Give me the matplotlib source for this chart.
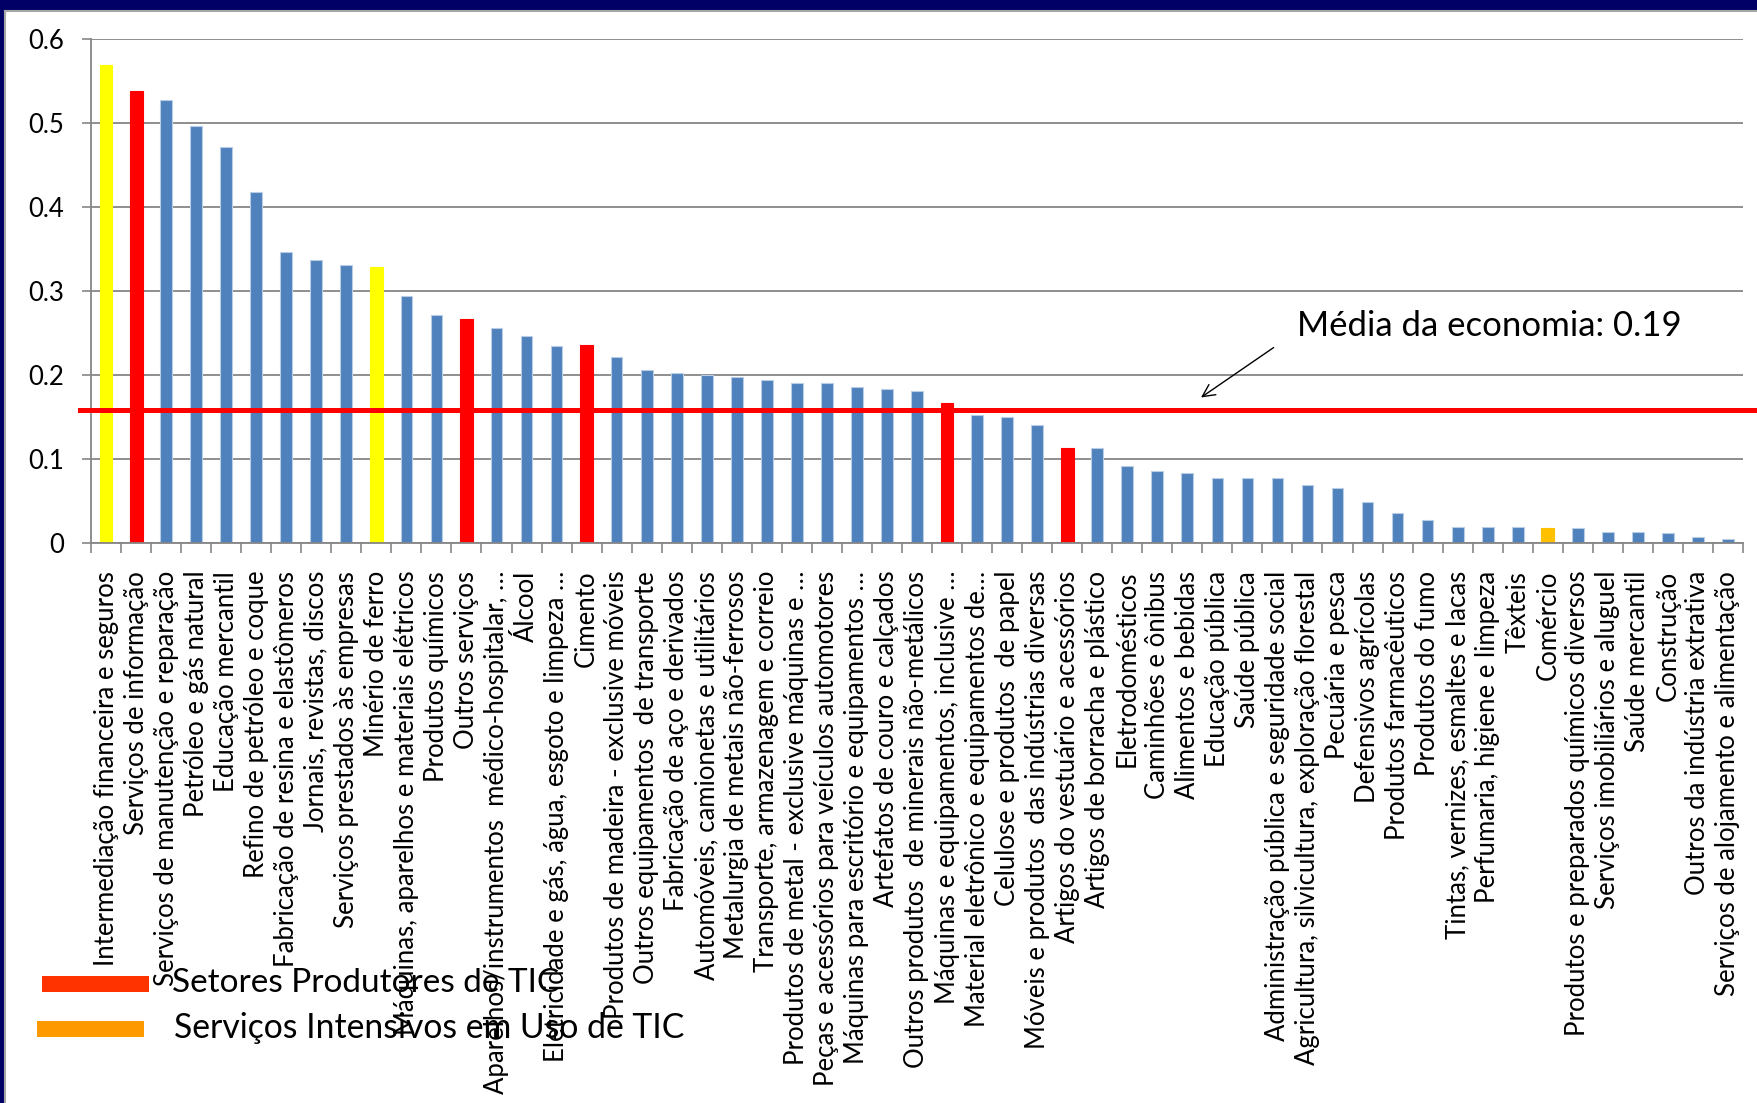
import numpy as np
import matplotlib
matplotlib.use("Agg")
import matplotlib.pyplot as plt
from matplotlib.patches import Rectangle
from matplotlib.lines import Line2D

plt.rcParams['font.family'] = ['Lato', 'DejaVu Sans']

# %% data
setores = [
    "Intermediação financeira e seguros",
    "Serviços de informação",
    "Serviços de manutenção e reparação",
    "Petróleo e gás natural",
    "Educação mercantil",
    "Refino de petróleo e coque",
    "Fabricação de resina e elastômeros",
    "Jornais, revistas, discos",
    "Serviços prestados às empresas",
    "Minério de ferro",
    "Máquinas, aparelhos e materiais elétricos",
    "Produtos químicos",
    "Outros serviços",
    "Aparelhos/instrumentos  médico-hospitalar, …",
    "Álcool",
    "Eletricidade e gás, água, esgoto e limpeza …",
    "Cimento",
    "Produtos de madeira - exclusive móveis",
    "Outros equipamentos  de transporte",
    "Fabricação de aço e derivados",
    "Automóveis, camionetas e utilitários",
    "Metalurgia de metais não-ferrosos",
    "Transporte, armazenagem e correio",
    "Produtos de metal - exclusive máquinas e …",
    "Peças e acessórios para veículos automotores",
    "Máquinas para escritório e equipamentos …",
    "Artefatos de couro e calçados",
    "Outros produtos  de minerais não-metálicos",
    "Máquinas e equipamentos, inclusive …",
    "Material eletrônico e equipamentos de…",
    "Celulose e produtos  de papel",
    "Móveis e produtos  das indústrias diversas",
    "Artigos do vestuário e acessórios",
    "Artigos de borracha e plástico",
    "Eletrodomésticos",
    "Caminhões e ônibus",
    "Alimentos e bebidas",
    "Educação pública",
    "Saúde pública",
    "Administração pública e seguridade social",
    "Agricultura, silvicultura, exploração florestal",
    "Pecuária e pesca",
    "Defensivos agrícolas",
    "Produtos farmacêuticos",
    "Produtos do fumo",
    "Tintas, vernizes, esmaltes e lacas",
    "Perfumaria, higiene e limpeza",
    "Têxteis",
    "Comércio",
    "Produtos e preparados químicos diversos",
    "Serviços imobiliários e aluguel",
    "Saúde mercantil",
    "Construção",
    "Outros da indústria extrativa",
    "Serviços de alojamento e alimentação",
]

indice = [
    0.569, 0.538, 0.528, 0.497, 0.472, 0.418, 0.347, 0.337, 0.331, 0.3285,
    0.294, 0.271, 0.267, 0.256, 0.246, 0.235, 0.236, 0.221, 0.206, 0.2025,
    0.200, 0.198, 0.194, 0.191, 0.191, 0.1855, 0.183, 0.181, 0.167, 0.152,
    0.150, 0.140, 0.113, 0.113, 0.092, 0.0855, 0.0838, 0.0774, 0.0774, 0.0774,
    0.0694, 0.0655, 0.0485, 0.036, 0.0277, 0.0196, 0.0196, 0.0196, 0.0179, 0.0179,
    0.0128, 0.0128, 0.0115, 0.0072, 0.0051,
]

# A = amarelo, P = produtor de TIC, C = serviços intensivos (comércio), B = demais
grupo = ["A", "P", "B", "B", "B", "B", "B", "B", "B", "A",
         "B", "B", "P", "B", "B", "B", "P", "B", "B", "B",
         "B", "B", "B", "B", "B", "B", "B", "B", "P", "B",
         "B", "B", "P", "B", "B", "B", "B", "B", "B", "B",
         "B", "B", "B", "B", "B", "B", "B", "B", "C", "B",
         "B", "B", "B", "B", "B"]

media_linha = 0.158
texto_media = "Média da economia: 0.19"
legenda = ["Setores Produtores de TIC", "Serviços Intensivos em Uso de TIC"]
yticks = [0, 0.1, 0.2, 0.3, 0.4, 0.5, 0.6]
ytick_labels = ["0", "0.1", "0.2", "0.3", "0.4", "0.5", "0.6"]

cor = {"A": "#FFFF00", "P": "#FF0000", "C": "#FFC000", "B": "#4F81BD"}
borda = {"A": "#FFFF00", "P": "#FF0000", "C": "#FFC000", "B": "#B9CDE5"}
largura = {"A": 0.42, "P": 0.43, "C": 0.42, "B": 0.39}

# %% figure
W, H = 1758, 1103
fig = plt.figure(figsize=(W / 100, H / 100), dpi=100)
fig.patch.set_facecolor("white")

# slide frame
navy = "#000066"
fig.add_artist(Rectangle((0, 1 - 9.5 / H), 1, 9.5 / H, color=navy, transform=fig.transFigure, lw=0))
fig.add_artist(Rectangle((0, 0), 4.5 / W, 1, color=navy, transform=fig.transFigure, lw=0))
fig.add_artist(Line2D([5 / W, 1], [1 - 11 / H] * 2, color="#A6A6A6", lw=1.5, transform=fig.transFigure))
fig.add_artist(Line2D([5 / W] * 2, [0, 1 - 11 / H], color="#A6A6A6", lw=1.5, transform=fig.transFigure))

ax_left, ax_right, ax_top, ax_bottom = 91, 1743, 39.3, 543
ax = fig.add_axes([ax_left / W, 1 - ax_bottom / H, (ax_right - ax_left) / W, (ax_bottom - ax_top) / H])

x = np.arange(len(setores))
ax.bar(x, indice,
       width=[largura[g] for g in grupo],
       color=[cor[g] for g in grupo],
       edgecolor=[borda[g] for g in grupo],
       linewidth=0.8, zorder=2)

ax.set_xlim(-0.5, len(setores) - 0.5)
ax.set_ylim(0, 0.6)

grid_col = "#868686"
ax.set_yticks(yticks)
ax.set_yticklabels(ytick_labels, fontsize=18.5)
ax.yaxis.grid(True, color=grid_col, lw=1.3, zorder=0)
ax.set_axisbelow(True)
ax.tick_params(axis="y", length=6.5, width=1.2, color=grid_col, pad=13)

ax.set_xticks(x)
ax.set_xticklabels(setores, rotation=90, fontsize=18.5, va="top", ha="center")
ax.set_xticks(np.arange(-0.5, len(setores), 1), minor=True)
ax.tick_params(axis="x", which="major", length=0, pad=20)
ax.tick_params(axis="x", which="minor", length=7, width=1.2, color=grid_col)

for s in ["top", "right"]:
    ax.spines[s].set_visible(False)
for s in ["left", "bottom"]:
    ax.spines[s].set_color(grid_col)
    ax.spines[s].set_linewidth(1.3)

# average line
span = ax_right - ax_left
ax.axhline(media_linha, xmin=(80 - ax_left) / span, xmax=(W - ax_left) / span,
           color="#FF0000", lw=3.6, clip_on=False, zorder=3)

ax.annotate("", xy=(36.38, 0.1715), xytext=(38.95, 0.2347),
            arrowprops=dict(arrowstyle="->", color="black", lw=1.0, mutation_scale=22))
ax.text(39.65, (ax_bottom - 336) / (ax_bottom - ax_top) * 0.6, texto_media,
        fontsize=25, va="baseline", ha="left")

# legend drawn by hand
fig.add_artist(Rectangle((42 / W, 1 - 992 / H), 107 / W, 16 / H, color="#FF3300",
                         transform=fig.transFigure, lw=0))
fig.add_artist(Rectangle((37 / W, 1 - 1037 / H), 107 / W, 16 / H, color="#FF9900",
                         transform=fig.transFigure, lw=0))
fig.text(172 / W, 1 - 992 / H, legenda[0], fontsize=24, va="baseline", ha="left")
fig.text(174 / W, 1 - 1038 / H, legenda[1], fontsize=24.3, va="baseline", ha="left")

fig.savefig("out.png", dpi=100)
